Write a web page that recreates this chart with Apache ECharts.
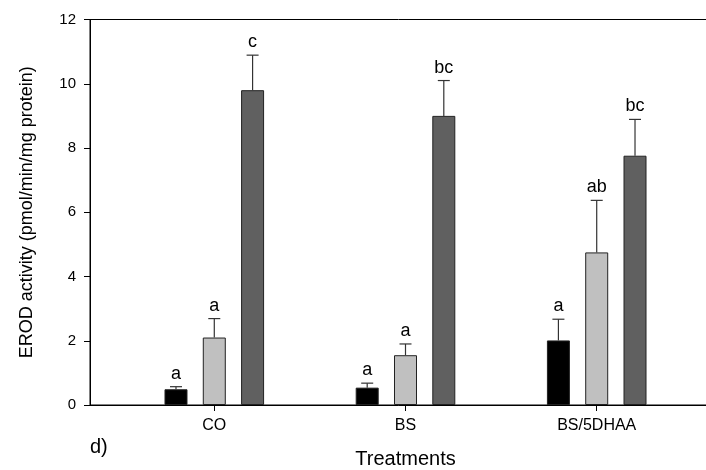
<!DOCTYPE html>
<html>
<head>
<meta charset="utf-8">
<script src="https://cdn.jsdelivr.net/npm/echarts@6/dist/echarts.min.js"></script>
<style>
  html, body { margin: 0; padding: 0; background: #fff; }
  #chart { width: 706px; height: 470px; }
</style>
</head>
<body>
<div id="chart"></div>
<script>
const categories = ['CO', 'BS', 'BS/5DHAA'];
const catPos = [1, 2, 3];

const blackVals = [0.49, 0.54, 2.01];
const lightVals = [2.10, 1.55, 4.75];
const darkVals = [9.80, 9.00, 7.76];

const blackErr = [0.08, 0.14, 0.66];
const lightErr = [0.59, 0.35, 1.62];
const darkErr = [1.09, 1.10, 1.13];

const blackLetters = ['a', 'a', 'a'];
const lightLetters = ['a', 'a', 'ab'];
const darkLetters = ['c', 'bc', 'bc'];

const yMin = 0;
const yMax = 12;
const yStep = 2;

const fontFamily = '"Liberation Sans", Arial, sans-serif';
const barWidth = 23;
const barGapPx = 15.3;
const barColors = ['#000000', '#c0c0c0', '#606060'];

const groups = [
    { vals: blackVals, errs: blackErr, letters: blackLetters },
    { vals: lightVals, errs: lightErr, letters: lightLetters },
    { vals: darkVals, errs: darkErr, letters: darkLetters }
];

const chart = echarts.init(document.getElementById('chart'), null, { renderer: 'canvas' });

const series = [];
groups.forEach((g, i) => {
    series.push({
        type: 'bar',
        name: 'g' + i,
        barWidth: barWidth,
        barGap: (barGapPx / barWidth * 100) + '%',
        itemStyle: { color: barColors[i], borderColor: '#222', borderWidth: 1 },
        animation: false,
        data: catPos.map((p, k) => [p, g.vals[k]])
    });
});

// error bars + letters
groups.forEach((g, i) => {
    const offset = (i - 1) * (barWidth + barGapPx);
    series.push({
        type: 'custom',
        name: 'err' + i,
        z: 5,
        clip: false,
        animation: false,
        data: catPos.map((p, k) => [p, g.vals[k], g.errs[k]]),
        renderItem: (params, api) => {
            const x = api.value(0);
            const v = api.value(1);
            const e = api.value(2);
            const letter = g.letters[params.dataIndex];
            const p0 = api.coord([x, v]);
            const p1 = api.coord([x, v + e]);
            const cx = p0[0] + offset;
            return {
                type: 'group',
                children: [
                    {
                        type: 'line',
                        shape: { x1: cx, y1: p0[1], x2: cx, y2: p1[1] },
                        style: { stroke: '#333', lineWidth: 1.2 }
                    },
                    {
                        type: 'line',
                        shape: { x1: cx - 6, y1: p1[1], x2: cx + 6, y2: p1[1] },
                        style: { stroke: '#333', lineWidth: 1.2 }
                    },
                    {
                        type: 'text',
                        x: cx,
                        y: p1[1] - 4,
                        style: {
                            text: letter,
                            align: 'center',
                            verticalAlign: 'bottom',
                            fontSize: 18,
                            fontFamily: fontFamily,
                            fill: '#000'
                        }
                    }
                ]
            };
        }
    });
});

chart.setOption({
    backgroundColor: '#fff',
    animation: false,
    grid: {
        show: true,
        left: 90,
        right: -15,
        top: 19.5,
        bottom: 65,
        borderColor: '#000',
        borderWidth: 1,
        containLabel: false,
        outerBoundsMode: 'none'
    },
    xAxis: {
        type: 'value',
        min: 0.35,
        max: 3.65,
        name: 'Treatments',
        nameLocation: 'middle',
        nameGap: 44,
        nameTextStyle: { fontSize: 20, color: '#000', fontFamily: fontFamily },
        axisLine: { show: true, lineStyle: { color: '#000', width: 1 } },
        axisTick: {
            show: true,
            length: 6,
            customValues: catPos,
            lineStyle: { color: '#000' }
        },
        axisLabel: {
            customValues: catPos,
            margin: 13,
            fontSize: 16,
            color: '#000',
            fontFamily: fontFamily,
            formatter: (v) => categories[catPos.indexOf(v)] || ''
        },
        splitLine: { show: false }
    },
    yAxis: {
        type: 'value',
        min: yMin,
        max: yMax,
        interval: yStep,
        name: 'EROD activity (pmol/min/mg protein)',
        nameLocation: 'middle',
        nameGap: 54,
        nameTextStyle: { fontSize: 18, color: '#000', fontFamily: fontFamily },
        axisLine: { show: true, lineStyle: { color: '#000', width: 1 } },
        axisTick: { show: true, length: 6, lineStyle: { color: '#000' } },
        axisLabel: { margin: 14, fontSize: 15, color: '#000', fontFamily: fontFamily },
        splitLine: { show: false }
    },
    graphic: [
        {
            type: 'text',
            left: 90,
            top: 437,
            style: { text: 'd)', fontSize: 20, fill: '#000', fontFamily: fontFamily }
        }
    ],
    series: series
});
</script>
</body>
</html>
